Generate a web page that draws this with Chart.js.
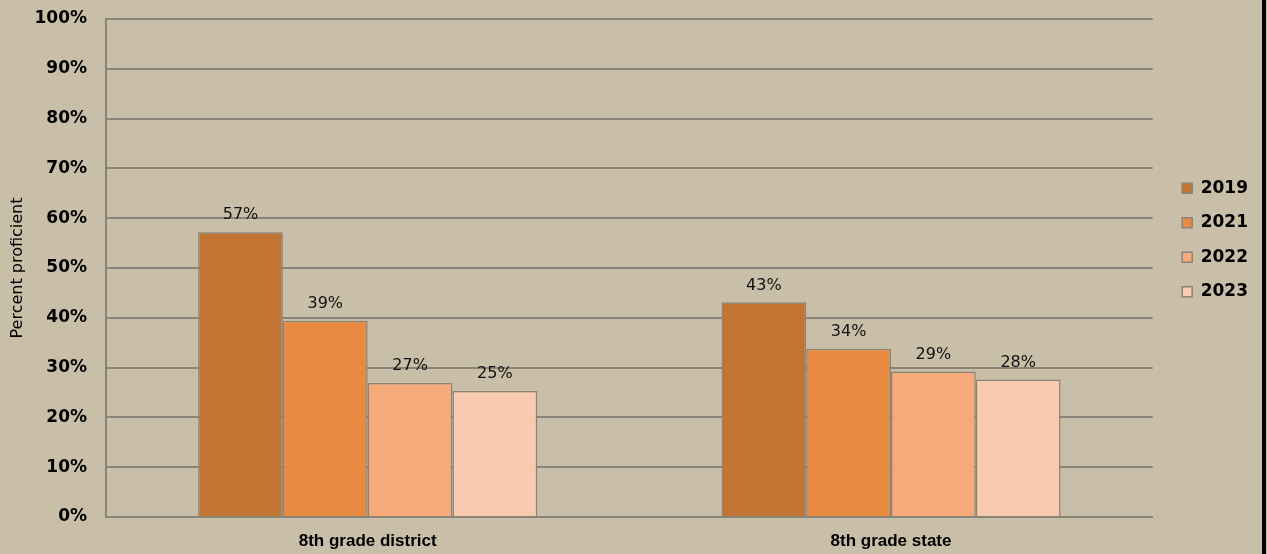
<!DOCTYPE html>
<html>
<head>
<meta charset="utf-8">
<script src="https://cdn.jsdelivr.net/npm/chart.js@4"></script>
<style>
  html, body { margin: 0; padding: 0; background: #c9bfa9; }
  #wrap { width: 1262px; height: 554px; border-right: 4px solid #000; position: relative; }
</style>
</head>
<body>
<div id="wrap"><canvas id="chart"></canvas></div>
<script>
'use strict';

// data
const categories = ['8th grade district', '8th grade state'];
const years = ['2019', '2021', '2022', '2023'];
const values2019 = [57.2, 43.1];
const values2021 = [39.4, 33.8];
const values2022 = [26.9, 29.2];
const values2023 = [25.3, 27.6];
const yTicks = [0, 10, 20, 30, 40, 50, 60, 70, 80, 90, 100];

const colors = ['#c27433', '#e88b40', '#f7a97a', '#f8cbb1'];
const edge = '#8a8478';
const fontFamily = '"DejaVu Sans", Verdana, sans-serif';
const catFont = '"Liberation Sans", Arial, sans-serif';

const series = [values2019, values2021, values2022, values2023];

// draws the % label over each bar
const barLabels = {
    id: 'barLabels',
    afterDatasetsDraw(chart) {
        const ctx = chart.ctx;
        ctx.save();
        ctx.font = `16px ${fontFamily}`;
        ctx.fillStyle = '#111';
        ctx.textAlign = 'center';
        ctx.textBaseline = 'middle';
        chart.data.datasets.forEach((ds, i) => {
            chart.getDatasetMeta(i).data.forEach((bar, j) => {
                ctx.fillText(Math.round(ds.data[j]) + '%', bar.x, bar.y - 17);
            });
        });
        ctx.restore();
    }
};

// nudge the legend a bit right and up, like the original
const legendNudge = {
    id: 'legendNudge',
    afterLayout(chart) {
        const lg = chart.legend;
        if (!lg) return;
        lg.left += 12;
        lg.right += 12;
        lg.top -= 37;
        lg.bottom -= 37;
    }
};

new Chart(document.getElementById('chart'), {
    type: 'bar',
    data: {
        labels: categories,
        datasets: years.map((y, i) => ({
            label: y,
            data: series[i],
            backgroundColor: colors[i],
            borderColor: edge,
            borderWidth: 1.5,
            barPercentage: 1,
            categoryPercentage: 0.648
        }))
    },
    options: {
        responsive: true,
        maintainAspectRatio: false,
        animation: false,
        layout: { padding: { top: 0, right: 16, left: 0, bottom: 0 } },
        plugins: {
            legend: {
                position: 'right',
                labels: {
                    color: '#000',
                    font: { family: fontFamily, size: 17, weight: 'bold' },
                    boxWidth: 10,
                    boxHeight: 10,
                    padding: 17.5
                }
            },
            tooltip: { enabled: false }
        },
        scales: {
            x: {
                afterFit: (axis) => { axis.height = 37; },
                grid: { display: false },
                border: { color: edge, width: 2 },
                ticks: { color: '#000', font: { family: catFont, size: 17, weight: 'bold' }, padding: 6 }
            },
            y: {
                min: 0,
                max: 100,
                afterBuildTicks: (axis) => { axis.ticks = yTicks.map(v => ({ value: v })); },
                afterFit: (axis) => { axis.width = 106; axis.paddingTop = 19; },
                grid: { color: edge, lineWidth: 2, drawTicks: false },
                border: { color: edge, width: 2 },
                ticks: {
                    color: '#000',
                    font: { family: fontFamily, size: 17, weight: 'bold' },
                    padding: 19,
                    callback: v => v + '%'
                },
                title: {
                    display: true,
                    text: 'Percent proficient',
                    color: '#000',
                    font: { family: fontFamily, size: 16 },
                    padding: { top: 8, bottom: 0 }
                }
            }
        }
    },
    plugins: [barLabels, legendNudge]
});
</script>
</body>
</html>
